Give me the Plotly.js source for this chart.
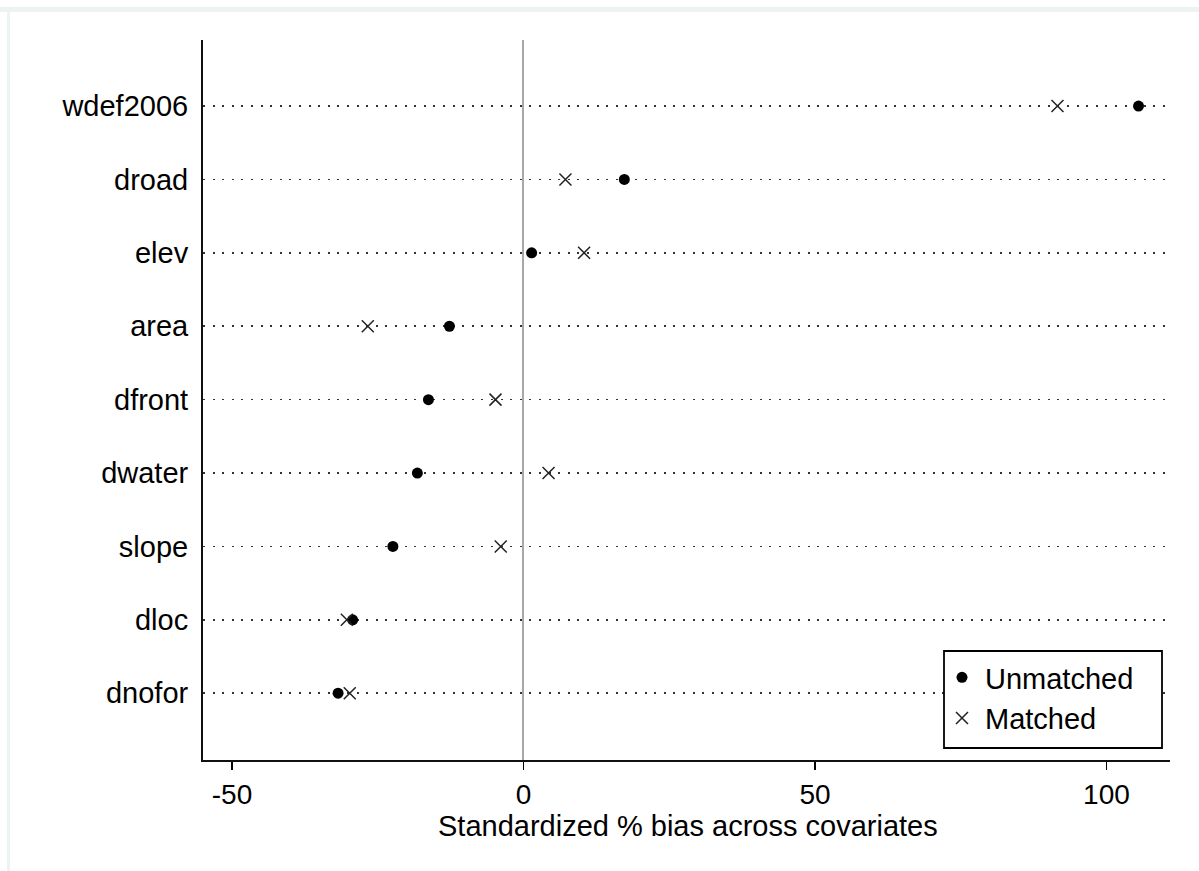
<!DOCTYPE html>
<html>
<head>
<meta charset="utf-8">
<script src="https://cdn.plot.ly/plotly-3.0.1.min.js"></script>
<style>
html,body{margin:0;padding:0;background:#fff;}
#chart{width:1199px;height:871px;}
</style>
</head>
<body>
<div id="chart"></div>
<script>
const covariates = ["wdef2006","droad","elev","area","dfront","dwater","slope","dloc","dnofor"];
const unmatched = [105.5, 17.3, 1.4, -12.7, -16.3, -18.2, -22.4, -29.3, -31.8];
const matched   = [91.6, 7.2, 10.4, -26.7, -4.8, 4.3, -3.9, -30.3, -29.8];
const xTicks = [-50, 0, 50, 100];
const seriesNames = ["Unmatched", "Matched"];
const xTitle = "Standardized % bias across covariates";

const W = 1199, H = 871;
const L = 203, R = 29, T = 40, B = 111;
const pw = W - L - R, ph = H - T - B;
const fontFam = "Liberation Sans, Arial, sans-serif";
const px2x = p => (p - L) / pw;
const px2y = p => (760 - p) / ph;

const traces = [
  {
    type: "scatter", mode: "markers", name: seriesNames[0],
    x: unmatched, y: covariates,
    marker: {symbol: "circle", size: 11, color: "#000000"},
    cliponaxis: false
  },
  {
    type: "scatter", mode: "markers", name: seriesNames[1],
    x: matched, y: covariates,
    marker: {symbol: "x-thin-open", size: 12, color: "#222222", line: {width: 1.5, color: "#222222"}},
    cliponaxis: false
  }
];

const layout = {
  width: W, height: H,
  margin: {l: L, r: R, t: T, b: B},
  paper_bgcolor: "#ffffff",
  plot_bgcolor: "#ffffff",
  font: {family: fontFam, size: 29, color: "#000000"},
  showlegend: true,
  legend: {
    x: px2x(939), xanchor: "left",
    y: px2y(652), yanchor: "top",
    borderwidth: 0,
    bgcolor: "rgba(0,0,0,0)",
    font: {family: fontFam, size: 29, color: "#000000"},
    itemwidth: 36,
    tracegroupgap: 0
  },
  xaxis: {
    range: [-54.97, 110.9],
    tickvals: xTicks,
    ticktext: xTicks.map(String),
    ticks: "outside", ticklen: 8, tickwidth: 1.5, tickcolor: "#000000",
    showline: true, linecolor: "#111111", linewidth: 2,
    showgrid: false,
    zeroline: true, zerolinecolor: "#a8a8a8", zerolinewidth: 2,
    ticklabelstandoff: 0,
    tickfont: {family: fontFam, size: 28, color: "#000000"},
    fixedrange: true
  },
  yaxis: {
    type: "category",
    categoryorder: "array", categoryarray: covariates,
    range: [8.91, -0.9],
    ticks: "", showline: true, linecolor: "#111111", linewidth: 2,
    showgrid: true, gridcolor: "#333333", gridwidth: 1.6, griddash: "2px,7.6px",
    zeroline: false,
    ticklabelstandoff: 7,
    tickfont: {family: fontFam, size: 29, color: "#000000"},
    fixedrange: true
  },
  annotations: [
    {text: xTitle, xref: "paper", yref: "paper",
     x: px2x(688), xanchor: "center", y: px2y(826), yanchor: "middle",
     showarrow: false, font: {family: fontFam, size: 29, color: "#000000"}}
  ],
  shapes: [
    {type: "rect", xref: "paper", yref: "paper",
     x0: px2x(0), x1: px2x(W), y0: px2y(12), y1: px2y(7),
     fillcolor: "#edf3f3", line: {width: 0}, layer: "below"},
    {type: "rect", xref: "paper", yref: "paper",
     x0: px2x(7), x1: px2x(10), y0: px2y(H), y1: px2y(7),
     fillcolor: "#edf3f3", line: {width: 0}, layer: "below"},
    {type: "rect", xref: "paper", yref: "paper",
     x0: px2x(944), x1: px2x(1162), y0: px2y(748), y1: px2y(651),
     fillcolor: "#ffffff", line: {width: 1.8, color: "#000000"}, layer: "above"}
  ]
};

Plotly.newPlot("chart", traces, layout, {displayModeBar: false, staticPlot: true});
</script>
</body>
</html>
